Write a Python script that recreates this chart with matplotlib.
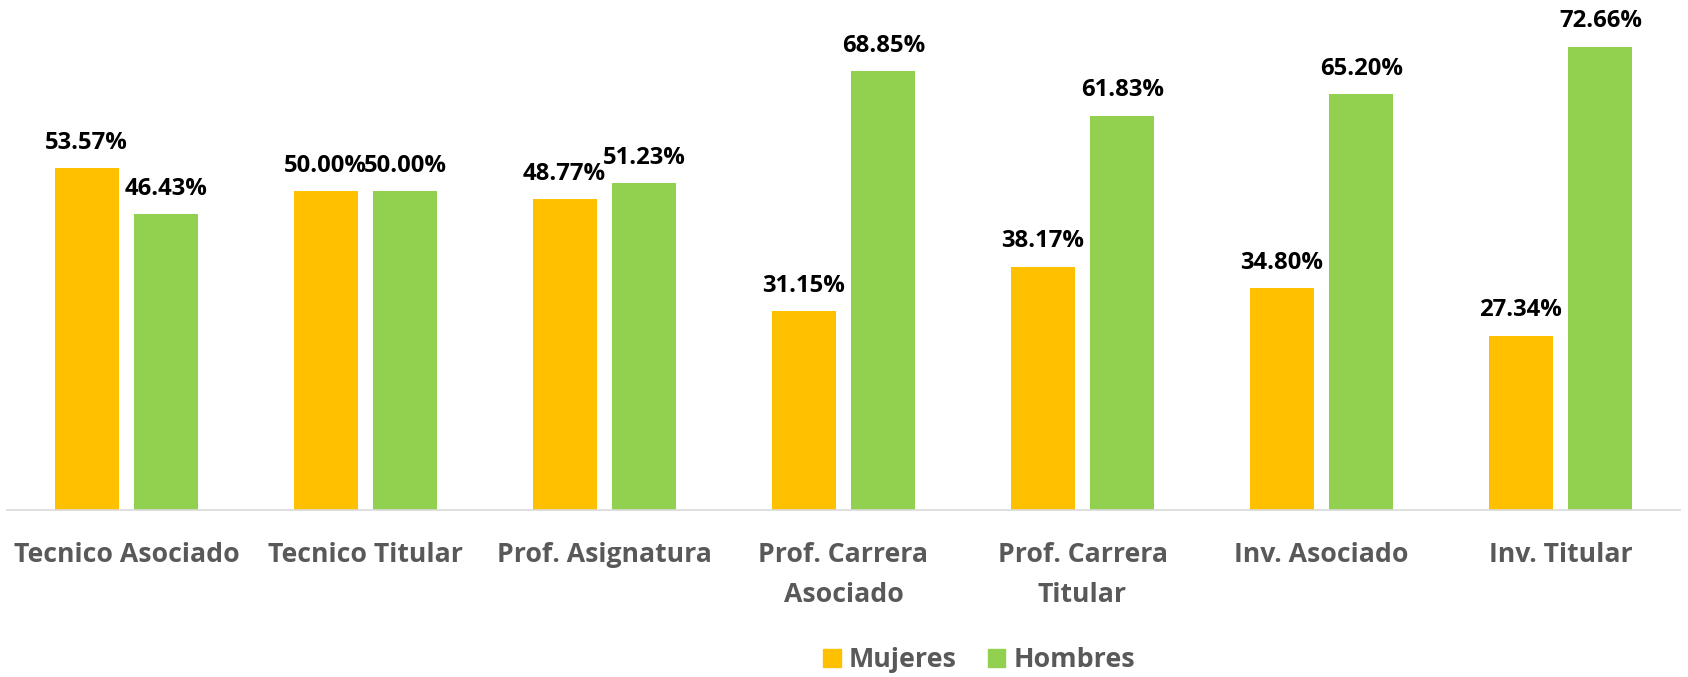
import numpy as np
import matplotlib
matplotlib.use("Agg")
from matplotlib import pyplot as plt
from matplotlib.patches import Patch

####################### data
categorias = ["Tecnico Asociado", "Tecnico Titular", "Prof. Asignatura",
              "Prof. Carrera\nAsociado", "Prof. Carrera\nTitular",
              "Inv. Asociado", "Inv. Titular"]
mujeres = [53.57, 50.00, 48.77, 31.15, 38.17, 34.80, 27.34]
hombres = [46.43, 50.00, 51.23, 68.85, 61.83, 65.20, 72.66]

plt.rcParams['font.family'] = ['Open Sans', 'DejaVu Sans']

####################### figure
fig = plt.figure(figsize=(16.88, 6.77), dpi=100)
ax = fig.add_axes([7 / 1688, 167 / 677, 1673 / 1688, 510 / 677])

x = np.arange(len(categorias))
ancho = 0.268
desp = 0.167
b1 = ax.bar(x - desp, mujeres, ancho, color='#FFC000', label='Mujeres')
b2 = ax.bar(x + desp, hombres, ancho, color='#92D050', label='Hombres')

for barras in (b1, b2):
    for b in barras:
        ax.annotate(f"{b.get_height():.2f}%",
                    (b.get_x() + b.get_width() / 2, b.get_height()),
                    xytext=(0, 14), textcoords='offset points',
                    ha='center', va='baseline', fontsize=17.2, fontweight='bold',
                    color='black')

ax.set_xlim(-0.5, len(categorias) - 0.5)
ax.set_ylim(0, 80)
ax.set_yticks([])
ax.set_xticks(x)
ax.set_xticklabels(categorias, fontsize=19.2, fontweight='bold', color='#595959',
                   linespacing=1.7)
ax.tick_params(axis='x', length=0, pad=23)
for s in ('top', 'right', 'left'):
    ax.spines[s].set_visible(False)
ax.spines['bottom'].set_color('#D9D9D9')
ax.spines['bottom'].set_linewidth(1.2)

######################## legend
handles = [Patch(color='#FFC000', label='Mujeres'),
           Patch(color='#92D050', label='Hombres')]
leg = fig.legend(handles=handles, loc='center', bbox_to_anchor=(0.58, 1 - 660 / 677),
                 ncol=2, frameon=False, prop={'size': 19.4, 'weight': 'bold'},
                 handlelength=0.65, handleheight=0.65, handletextpad=0.3,
                 columnspacing=1.15)
for t in leg.get_texts():
    t.set_color('#595959')

fig.savefig("out.png", dpi=100)
